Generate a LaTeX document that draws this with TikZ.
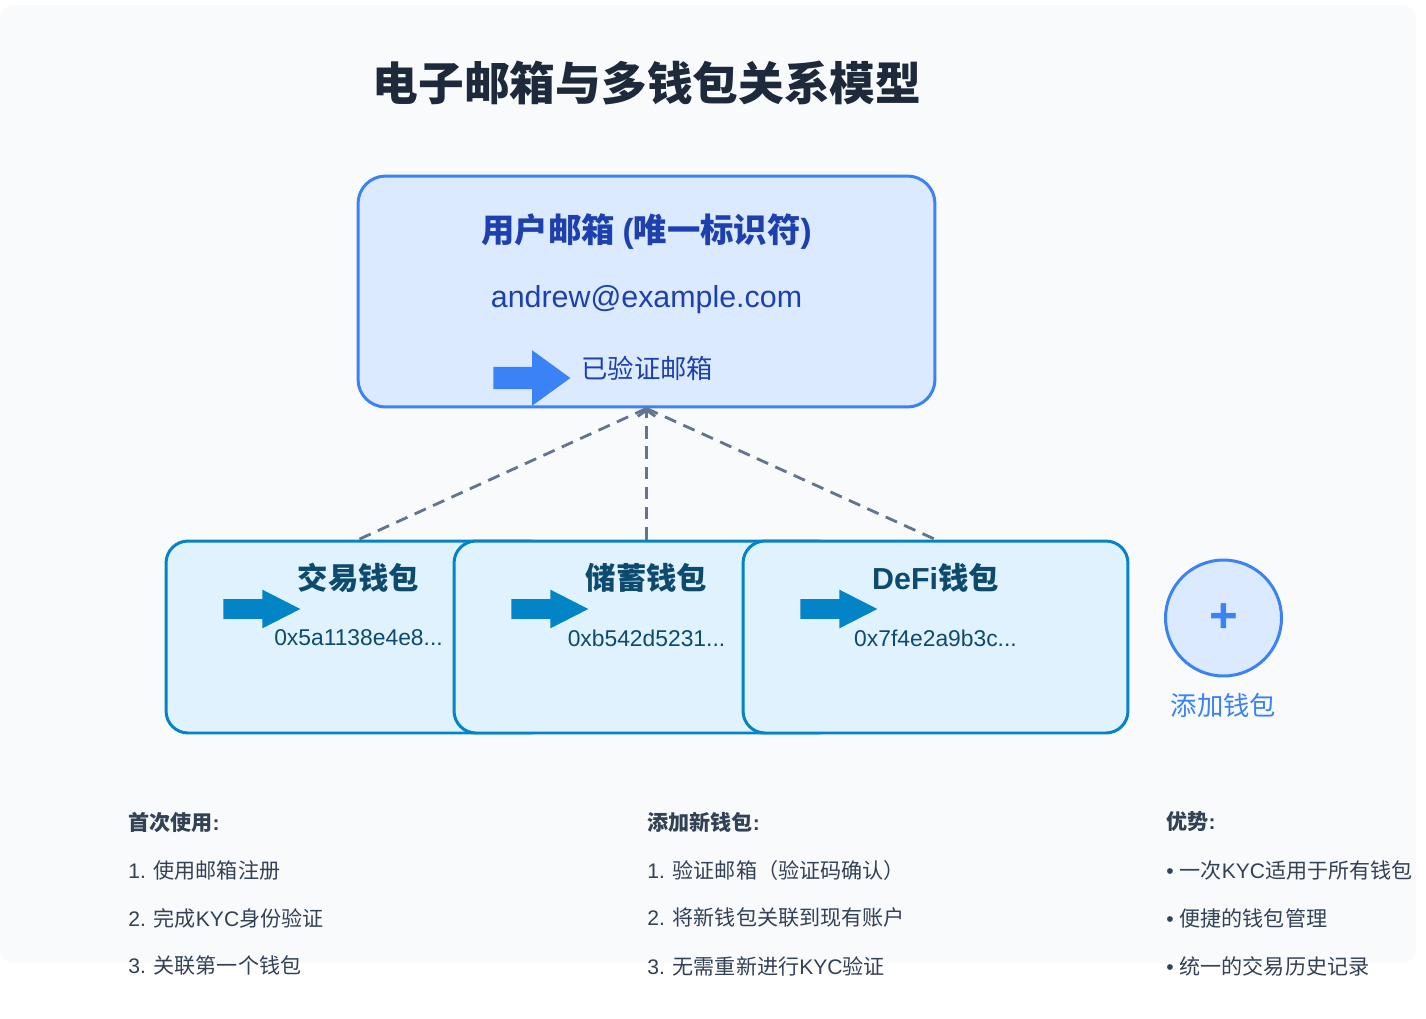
\documentclass[tikz,border=0pt]{standalone}
\usepackage{fontspec}
\setmainfont{Noto Sans CJK SC}
\newfontfamily\lat{Liberation Sans}
\usepackage{tikz}
\usetikzlibrary{shapes.arrows, arrows.meta, positioning}
\usepackage{xcolor}

\definecolor{panelbg}{HTML}{F8FAFC}
\definecolor{titleink}{HTML}{1E293B}
\definecolor{mailfill}{HTML}{DBEAFE}
\definecolor{mailline}{HTML}{3B82F6}
\definecolor{mailink}{HTML}{1E40AF}
\definecolor{walletfill}{HTML}{E0F2FE}
\definecolor{walletline}{HTML}{0284C7}
\definecolor{walletink}{HTML}{0C4A6E}
\definecolor{linkgrey}{HTML}{64748B}
\definecolor{noteink}{HTML}{334155}

\tikzset{
    emailbox/.style={draw=mailline, fill=mailfill, line width=1.7pt, rounded corners=0.55cm,
        minimum width=11.54cm, minimum height=4.62cm},
    walletbox/.style={draw=walletline, fill=walletfill, line width=1.7pt, rounded corners=0.44cm,
        minimum width=7.7cm, minimum height=3.84cm},
    link/.style={draw=linkgrey, line width=1.6pt, dash pattern=on 7pt off 4.5pt},
    mailarrow/.style={single arrow, fill=mailline, inner xsep=0pt, inner ysep=0.215cm,
        minimum height=1.54cm, single arrow head extend=0.335cm, single arrow tip angle=72, anchor=tail},
    walletarrow/.style={single arrow, fill=walletline, inner xsep=0pt, inner ysep=0.19cm,
        minimum height=1.54cm, single arrow head extend=0.19cm, single arrow tip angle=54, anchor=tail},
    notehead/.style={anchor=west, inner xsep=0pt, text=noteink, font=\bfseries\fontsize{12}{14}\selectfont},
    noteitem/.style={anchor=west, inner xsep=0pt, text=noteink, font=\fontsize{12}{14}\selectfont}
}

\begin{document}
\begin{tikzpicture}[x=0.02cm, y=-0.02cm]
    \useasboundingbox (0,0) rectangle (1426,1018);
    \fill[white] (0,0) rectangle (1426,1018);
    \fill[panelbg, rounded corners=0.3cm] (0,5) rectangle (1416,963);

    % Title
    \node[text=titleink, font=\bfseries\fontsize{26}{30}\selectfont] (title) at (647,83) {电子邮箱与多钱包关系模型};

    % Email box
    \node[emailbox] (email) at (646.5,291.5) {};
    \node[text=mailink, font=\bfseries\fontsize{19}{22}\selectfont] (mailhead) at (646.5,232) {用户邮箱 {\lat (}唯一标识符{\lat )}};
    \node[text=mailink, font=\lat\fontsize{17.3}{20}\selectfont] (mailaddr) at (646.5,300) {andrew@example.com};
    \node[mailarrow] (mailtick) at (493,378) {};
    \node[text=mailink, font=\fontsize{15}{18}\selectfont, anchor=west, inner xsep=0pt] (verified) at (581,368) {已验证邮箱};

    % Wallet boxes, each one drawn over the previous
    \foreach \i/\cx/\name in {1/358.5/交易钱包, 2/646.5/储蓄钱包, 3/935.5/{{\lat DeFi}钱包}} {
        \node[walletbox] (wal\i) at (\cx,637) {};
        \node[text=walletink, font=\bfseries\fontsize{17.3}{20}\selectfont] (walname\i) at (\cx,578) {\name};
        \node[walletarrow] (walarrow\i) at (\cx-135.5,609) {};
    }
    \node[text=walletink, font=\lat\fontsize{13}{16}\selectfont] (addr1) at (358.5,638) {0x5a1138e4e8...};
    \node[text=walletink, font=\lat\fontsize{13}{16}\selectfont] (addr2) at (646.5,638) {0xb542d5231...};
    \node[text=walletink, font=\lat\fontsize{13}{16}\selectfont] (addr3) at (935.5,638) {0x7f4e2a9b3c...};

    % Links from the email to the wallets
    \draw[link] (email.south) -- (wal1.north);
    \draw[link, -{Straight Barb[length=3.5pt, width=10pt]}] (wal2.north) -- (email.south);
    \draw[link] (email.south) -- (wal3.north);

    % Add wallet button
    \node[circle, draw=mailline, fill=mailfill, line width=1.7pt, minimum size=2.32cm] (add) at (1223.5,618) {};
    \node[text=mailline, font=\lat\bfseries\fontsize{28}{30}\selectfont] (plus) at (add.center) {+};
    \node[text=mailline, font=\fontsize{15}{18}\selectfont] (addlabel) at (1223.5,705) {添加钱包};

    % Notes
    \node[notehead] (first) at (128,822) {首次使用{\lat :}};
    \node[noteitem] (first1) at (128,870) {{\lat 1. }使用邮箱注册};
    \node[noteitem] (first2) at (128,918) {{\lat 2. }完成{\lat KYC}身份验证};
    \node[noteitem] (first3) at (128,966) {{\lat 3. }关联第一个钱包};

    \node[notehead] (more) at (647,822) {添加新钱包{\lat :}};
    \node[noteitem] (more1) at (647,870) {{\lat 1. }验证邮箱（验证码确认）};
    \node[noteitem] (more2) at (647,918) {{\lat 2. }将新钱包关联到现有账户};
    \node[noteitem] (more3) at (647,966) {{\lat 3. }无需重新进行{\lat KYC}验证};

    \node[notehead] (gain) at (1166,822) {优势{\lat :}};
    \node[noteitem] (gain1) at (1166,870) {{\lat • }一次{\lat KYC}适用于所有钱包};
    \node[noteitem] (gain2) at (1166,918) {{\lat • }便捷的钱包管理};
    \node[noteitem] (gain3) at (1166,966) {{\lat • }统一的交易历史记录};

\end{tikzpicture}
\end{document}
